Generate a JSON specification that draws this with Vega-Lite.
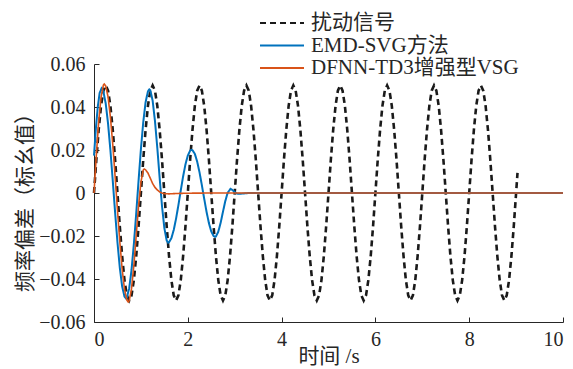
{
  "$schema": "https://vega.github.io/schema/vega-lite/v6.json",
  "width": 469,
  "height": 258,
  "autosize": {"type": "none"},
  "padding": {"left": 94, "top": 64, "right": 10, "bottom": 47},
  "background": "white",
  "config": {
    "view": {"stroke": null},
    "font": "Liberation Serif, Noto Sans CJK SC",
    "axis": {
      "grid": false,
      "domainColor": "#262626",
      "tickColor": "#262626",
      "domainWidth": 1,
      "tickWidth": 1,
      "tickSize": -5,
      "labelColor": "#262626",
      "titleColor": "#262626",
      "labelFont": "Liberation Serif, Noto Sans CJK SC",
      "titleFont": "Liberation Serif, Noto Sans CJK SC",
      "labelFontSize": 20,
      "titleFontSize": 21,
      "titleFontWeight": "normal"
    },
    "legend": {
      "labelFont": "Liberation Serif, Noto Sans CJK SC",
      "labelFontSize": 21,
      "labelColor": "#262626",
      "labelLimit": 400,
      "symbolType": "M-2,0H2",
      "symbolSize": 484,
      "symbolStrokeWidth": 2,
      "labelOffset": 17,
      "rowPadding": 0.5,
      "padding": 0
    }
  },
  "data": {"values": [
    {"s":"扰动信号","t":0,"v":0},{"s":"扰动信号","t":0.05,"v":0.0155},{"s":"扰动信号","t":0.1,"v":0.0294},{"s":"扰动信号","t":0.15,"v":0.0405},{"s":"扰动信号","t":0.2,"v":0.0476},{"s":"扰动信号","t":0.25,"v":0.05},{"s":"扰动信号","t":0.3,"v":0.0476},{"s":"扰动信号","t":0.35,"v":0.0405},{"s":"扰动信号","t":0.4,"v":0.0294},{"s":"扰动信号","t":0.45,"v":0.0155},{"s":"扰动信号","t":0.5,"v":0},{"s":"扰动信号","t":0.55,"v":-0.0155},{"s":"扰动信号","t":0.6,"v":-0.0294},{"s":"扰动信号","t":0.65,"v":-0.0405},{"s":"扰动信号","t":0.7,"v":-0.0476},{"s":"扰动信号","t":0.75,"v":-0.05},{"s":"扰动信号","t":0.8,"v":-0.0476},{"s":"扰动信号","t":0.85,"v":-0.0405},{"s":"扰动信号","t":0.9,"v":-0.0294},{"s":"扰动信号","t":0.95,"v":-0.0155},
    {"s":"扰动信号","t":1,"v":0},{"s":"扰动信号","t":1.05,"v":0.0155},{"s":"扰动信号","t":1.1,"v":0.0294},{"s":"扰动信号","t":1.15,"v":0.0405},{"s":"扰动信号","t":1.2,"v":0.0476},{"s":"扰动信号","t":1.25,"v":0.05},{"s":"扰动信号","t":1.3,"v":0.0476},{"s":"扰动信号","t":1.35,"v":0.0405},{"s":"扰动信号","t":1.4,"v":0.0294},{"s":"扰动信号","t":1.45,"v":0.0155},{"s":"扰动信号","t":1.5,"v":0},{"s":"扰动信号","t":1.55,"v":-0.0155},{"s":"扰动信号","t":1.6,"v":-0.0294},{"s":"扰动信号","t":1.65,"v":-0.0405},{"s":"扰动信号","t":1.7,"v":-0.0476},{"s":"扰动信号","t":1.75,"v":-0.05},{"s":"扰动信号","t":1.8,"v":-0.0476},{"s":"扰动信号","t":1.85,"v":-0.0405},{"s":"扰动信号","t":1.9,"v":-0.0294},{"s":"扰动信号","t":1.95,"v":-0.0155},
    {"s":"扰动信号","t":2,"v":0},{"s":"扰动信号","t":2.05,"v":0.0155},{"s":"扰动信号","t":2.1,"v":0.0294},{"s":"扰动信号","t":2.15,"v":0.0405},{"s":"扰动信号","t":2.2,"v":0.0476},{"s":"扰动信号","t":2.25,"v":0.05},{"s":"扰动信号","t":2.3,"v":0.0476},{"s":"扰动信号","t":2.35,"v":0.0405},{"s":"扰动信号","t":2.4,"v":0.0294},{"s":"扰动信号","t":2.45,"v":0.0155},{"s":"扰动信号","t":2.5,"v":0},{"s":"扰动信号","t":2.55,"v":-0.0155},{"s":"扰动信号","t":2.6,"v":-0.0294},{"s":"扰动信号","t":2.65,"v":-0.0405},{"s":"扰动信号","t":2.7,"v":-0.0476},{"s":"扰动信号","t":2.75,"v":-0.05},{"s":"扰动信号","t":2.8,"v":-0.0476},{"s":"扰动信号","t":2.85,"v":-0.0405},{"s":"扰动信号","t":2.9,"v":-0.0294},{"s":"扰动信号","t":2.95,"v":-0.0155},
    {"s":"扰动信号","t":3,"v":0},{"s":"扰动信号","t":3.05,"v":0.0155},{"s":"扰动信号","t":3.1,"v":0.0294},{"s":"扰动信号","t":3.15,"v":0.0405},{"s":"扰动信号","t":3.2,"v":0.0476},{"s":"扰动信号","t":3.25,"v":0.05},{"s":"扰动信号","t":3.3,"v":0.0476},{"s":"扰动信号","t":3.35,"v":0.0405},{"s":"扰动信号","t":3.4,"v":0.0294},{"s":"扰动信号","t":3.45,"v":0.0155},{"s":"扰动信号","t":3.5,"v":0},{"s":"扰动信号","t":3.55,"v":-0.0155},{"s":"扰动信号","t":3.6,"v":-0.0294},{"s":"扰动信号","t":3.65,"v":-0.0405},{"s":"扰动信号","t":3.7,"v":-0.0476},{"s":"扰动信号","t":3.75,"v":-0.05},{"s":"扰动信号","t":3.8,"v":-0.0476},{"s":"扰动信号","t":3.85,"v":-0.0405},{"s":"扰动信号","t":3.9,"v":-0.0294},{"s":"扰动信号","t":3.95,"v":-0.0155},
    {"s":"扰动信号","t":4,"v":0},{"s":"扰动信号","t":4.05,"v":0.0155},{"s":"扰动信号","t":4.1,"v":0.0294},{"s":"扰动信号","t":4.15,"v":0.0405},{"s":"扰动信号","t":4.2,"v":0.0476},{"s":"扰动信号","t":4.25,"v":0.05},{"s":"扰动信号","t":4.3,"v":0.0476},{"s":"扰动信号","t":4.35,"v":0.0405},{"s":"扰动信号","t":4.4,"v":0.0294},{"s":"扰动信号","t":4.45,"v":0.0155},{"s":"扰动信号","t":4.5,"v":0},{"s":"扰动信号","t":4.55,"v":-0.0155},{"s":"扰动信号","t":4.6,"v":-0.0294},{"s":"扰动信号","t":4.65,"v":-0.0405},{"s":"扰动信号","t":4.7,"v":-0.0476},{"s":"扰动信号","t":4.75,"v":-0.05},{"s":"扰动信号","t":4.8,"v":-0.0476},{"s":"扰动信号","t":4.85,"v":-0.0405},{"s":"扰动信号","t":4.9,"v":-0.0294},{"s":"扰动信号","t":4.95,"v":-0.0155},
    {"s":"扰动信号","t":5,"v":0},{"s":"扰动信号","t":5.05,"v":0.0155},{"s":"扰动信号","t":5.1,"v":0.0294},{"s":"扰动信号","t":5.15,"v":0.0405},{"s":"扰动信号","t":5.2,"v":0.0476},{"s":"扰动信号","t":5.25,"v":0.05},{"s":"扰动信号","t":5.3,"v":0.0476},{"s":"扰动信号","t":5.35,"v":0.0405},{"s":"扰动信号","t":5.4,"v":0.0294},{"s":"扰动信号","t":5.45,"v":0.0155},{"s":"扰动信号","t":5.5,"v":0},{"s":"扰动信号","t":5.55,"v":-0.0155},{"s":"扰动信号","t":5.6,"v":-0.0294},{"s":"扰动信号","t":5.65,"v":-0.0405},{"s":"扰动信号","t":5.7,"v":-0.0476},{"s":"扰动信号","t":5.75,"v":-0.05},{"s":"扰动信号","t":5.8,"v":-0.0476},{"s":"扰动信号","t":5.85,"v":-0.0405},{"s":"扰动信号","t":5.9,"v":-0.0294},{"s":"扰动信号","t":5.95,"v":-0.0155},
    {"s":"扰动信号","t":6,"v":0},{"s":"扰动信号","t":6.05,"v":0.0155},{"s":"扰动信号","t":6.1,"v":0.0294},{"s":"扰动信号","t":6.15,"v":0.0405},{"s":"扰动信号","t":6.2,"v":0.0476},{"s":"扰动信号","t":6.25,"v":0.05},{"s":"扰动信号","t":6.3,"v":0.0476},{"s":"扰动信号","t":6.35,"v":0.0405},{"s":"扰动信号","t":6.4,"v":0.0294},{"s":"扰动信号","t":6.45,"v":0.0155},{"s":"扰动信号","t":6.5,"v":0},{"s":"扰动信号","t":6.55,"v":-0.0155},{"s":"扰动信号","t":6.6,"v":-0.0294},{"s":"扰动信号","t":6.65,"v":-0.0405},{"s":"扰动信号","t":6.7,"v":-0.0476},{"s":"扰动信号","t":6.75,"v":-0.05},{"s":"扰动信号","t":6.8,"v":-0.0476},{"s":"扰动信号","t":6.85,"v":-0.0405},{"s":"扰动信号","t":6.9,"v":-0.0294},{"s":"扰动信号","t":6.95,"v":-0.0155},
    {"s":"扰动信号","t":7,"v":0},{"s":"扰动信号","t":7.05,"v":0.0155},{"s":"扰动信号","t":7.1,"v":0.0294},{"s":"扰动信号","t":7.15,"v":0.0405},{"s":"扰动信号","t":7.2,"v":0.0476},{"s":"扰动信号","t":7.25,"v":0.05},{"s":"扰动信号","t":7.3,"v":0.0476},{"s":"扰动信号","t":7.35,"v":0.0405},{"s":"扰动信号","t":7.4,"v":0.0294},{"s":"扰动信号","t":7.45,"v":0.0155},{"s":"扰动信号","t":7.5,"v":0},{"s":"扰动信号","t":7.55,"v":-0.0155},{"s":"扰动信号","t":7.6,"v":-0.0294},{"s":"扰动信号","t":7.65,"v":-0.0405},{"s":"扰动信号","t":7.7,"v":-0.0476},{"s":"扰动信号","t":7.75,"v":-0.05},{"s":"扰动信号","t":7.8,"v":-0.0476},{"s":"扰动信号","t":7.85,"v":-0.0405},{"s":"扰动信号","t":7.9,"v":-0.0294},{"s":"扰动信号","t":7.95,"v":-0.0155},
    {"s":"扰动信号","t":8,"v":0},{"s":"扰动信号","t":8.05,"v":0.0155},{"s":"扰动信号","t":8.1,"v":0.0294},{"s":"扰动信号","t":8.15,"v":0.0405},{"s":"扰动信号","t":8.2,"v":0.0476},{"s":"扰动信号","t":8.25,"v":0.05},{"s":"扰动信号","t":8.3,"v":0.0476},{"s":"扰动信号","t":8.35,"v":0.0405},{"s":"扰动信号","t":8.4,"v":0.0294},{"s":"扰动信号","t":8.45,"v":0.0155},{"s":"扰动信号","t":8.5,"v":0},{"s":"扰动信号","t":8.55,"v":-0.0155},{"s":"扰动信号","t":8.6,"v":-0.0294},{"s":"扰动信号","t":8.65,"v":-0.0405},{"s":"扰动信号","t":8.7,"v":-0.0476},{"s":"扰动信号","t":8.75,"v":-0.05},{"s":"扰动信号","t":8.8,"v":-0.0476},{"s":"扰动信号","t":8.85,"v":-0.0405},{"s":"扰动信号","t":8.9,"v":-0.0294},{"s":"扰动信号","t":8.95,"v":-0.0155},
    {"s":"扰动信号","t":9,"v":0},{"s":"扰动信号","t":9.03,"v":0.0094},
    {"s":"EMD-SVG方法","t":0,"v":0.0174},{"s":"EMD-SVG方法","t":0.04,"v":0.030},{"s":"EMD-SVG方法","t":0.08,"v":0.040},{"s":"EMD-SVG方法","t":0.12,"v":0.0465},{"s":"EMD-SVG方法","t":0.16,"v":0.0486},{"s":"EMD-SVG方法","t":0.2,"v":0.0472},{"s":"EMD-SVG方法","t":0.25,"v":0.0416},{"s":"EMD-SVG方法","t":0.3,"v":0.0322},{"s":"EMD-SVG方法","t":0.35,"v":0.0199},{"s":"EMD-SVG方法","t":0.4,"v":0.0057},{"s":"EMD-SVG方法","t":0.45,"v":-0.0090},{"s":"EMD-SVG方法","t":0.5,"v":-0.0229},{"s":"EMD-SVG方法","t":0.55,"v":-0.0347},{"s":"EMD-SVG方法","t":0.6,"v":-0.0434},{"s":"EMD-SVG方法","t":0.65,"v":-0.0482},{"s":"EMD-SVG方法","t":0.68,"v":-0.049},
    {"s":"EMD-SVG方法","t":0.7,"v":-0.0486},{"s":"EMD-SVG方法","t":0.75,"v":-0.0444},{"s":"EMD-SVG方法","t":0.8,"v":-0.0358},{"s":"EMD-SVG方法","t":0.85,"v":-0.0238},{"s":"EMD-SVG方法","t":0.9,"v":-0.0095},{"s":"EMD-SVG方法","t":0.95,"v":0.0057},{"s":"EMD-SVG方法","t":1,"v":0.0203},{"s":"EMD-SVG方法","t":1.05,"v":0.0329},{"s":"EMD-SVG方法","t":1.1,"v":0.0422},{"s":"EMD-SVG方法","t":1.15,"v":0.0473},{"s":"EMD-SVG方法","t":1.18,"v":0.0482},
    {"s":"EMD-SVG方法","t":1.2,"v":0.0478},{"s":"EMD-SVG方法","t":1.25,"v":0.0430},{"s":"EMD-SVG方法","t":1.3,"v":0.0335},{"s":"EMD-SVG方法","t":1.35,"v":0.0209},{"s":"EMD-SVG方法","t":1.4,"v":0.0070},{"s":"EMD-SVG方法","t":1.45,"v":-0.0061},{"s":"EMD-SVG方法","t":1.5,"v":-0.0163},{"s":"EMD-SVG方法","t":1.55,"v":-0.0221},{"s":"EMD-SVG方法","t":1.58,"v":-0.0231},
    {"s":"EMD-SVG方法","t":1.6,"v":-0.0229},{"s":"EMD-SVG方法","t":1.65,"v":-0.0210},{"s":"EMD-SVG方法","t":1.7,"v":-0.0172},{"s":"EMD-SVG方法","t":1.75,"v":-0.0119},{"s":"EMD-SVG方法","t":1.8,"v":-0.0056},{"s":"EMD-SVG方法","t":1.85,"v":0.0012},{"s":"EMD-SVG方法","t":1.9,"v":0.0077},{"s":"EMD-SVG方法","t":1.95,"v":0.0133},{"s":"EMD-SVG方法","t":2,"v":0.0174},{"s":"EMD-SVG方法","t":2.05,"v":0.0197},{"s":"EMD-SVG方法","t":2.08,"v":0.0201},
    {"s":"EMD-SVG方法","t":2.1,"v":0.0199},{"s":"EMD-SVG方法","t":2.15,"v":0.0182},{"s":"EMD-SVG方法","t":2.2,"v":0.0146},{"s":"EMD-SVG方法","t":2.25,"v":0.0096},{"s":"EMD-SVG方法","t":2.3,"v":0.0036},{"s":"EMD-SVG方法","t":2.35,"v":-0.0027},{"s":"EMD-SVG方法","t":2.4,"v":-0.0088},{"s":"EMD-SVG方法","t":2.45,"v":-0.0140},{"s":"EMD-SVG方法","t":2.5,"v":-0.0179},{"s":"EMD-SVG方法","t":2.55,"v":-0.0200},{"s":"EMD-SVG方法","t":2.58,"v":-0.0204},
    {"s":"EMD-SVG方法","t":2.6,"v":-0.0202},{"s":"EMD-SVG方法","t":2.65,"v":-0.0180},{"s":"EMD-SVG方法","t":2.7,"v":-0.0139},{"s":"EMD-SVG方法","t":2.75,"v":-0.0087},{"s":"EMD-SVG方法","t":2.8,"v":-0.0037},{"s":"EMD-SVG方法","t":2.85,"v":0.0001},{"s":"EMD-SVG方法","t":2.91,"v":0.0019},{"s":"EMD-SVG方法","t":2.95,"v":0.0014},{"s":"EMD-SVG方法","t":3,"v":0.0004},{"s":"EMD-SVG方法","t":3.05,"v":-0.0003},{"s":"EMD-SVG方法","t":3.1,"v":-0.0004},{"s":"EMD-SVG方法","t":3.2,"v":-0.0002},{"s":"EMD-SVG方法","t":3.3,"v":0},{"s":"EMD-SVG方法","t":3.5,"v":0},{"s":"EMD-SVG方法","t":10,"v":0},
    {"s":"DFNN-TD3增强型VSG","t":0,"v":0},{"s":"DFNN-TD3增强型VSG","t":0.05,"v":0.0177},{"s":"DFNN-TD3增强型VSG","t":0.1,"v":0.0332},{"s":"DFNN-TD3增强型VSG","t":0.15,"v":0.0445},{"s":"DFNN-TD3增强型VSG","t":0.2,"v":0.0502},{"s":"DFNN-TD3增强型VSG","t":0.22,"v":0.0507},
    {"s":"DFNN-TD3增强型VSG","t":0.25,"v":0.0498},{"s":"DFNN-TD3增强型VSG","t":0.3,"v":0.0447},{"s":"DFNN-TD3增强型VSG","t":0.35,"v":0.0353},{"s":"DFNN-TD3增强型VSG","t":0.4,"v":0.0226},{"s":"DFNN-TD3增强型VSG","t":0.45,"v":0.0078},{"s":"DFNN-TD3增强型VSG","t":0.5,"v":-0.0078},{"s":"DFNN-TD3增强型VSG","t":0.55,"v":-0.0226},{"s":"DFNN-TD3增强型VSG","t":0.6,"v":-0.0353},{"s":"DFNN-TD3增强型VSG","t":0.65,"v":-0.0447},{"s":"DFNN-TD3增强型VSG","t":0.7,"v":-0.0498},{"s":"DFNN-TD3增强型VSG","t":0.73,"v":-0.0507},
    {"s":"DFNN-TD3增强型VSG","t":0.75,"v":-0.0502},{"s":"DFNN-TD3增强型VSG","t":0.8,"v":-0.0445},{"s":"DFNN-TD3增强型VSG","t":0.85,"v":-0.0336},{"s":"DFNN-TD3增强型VSG","t":0.9,"v":-0.0198},{"s":"DFNN-TD3增强型VSG","t":0.95,"v":-0.0060},{"s":"DFNN-TD3增强型VSG","t":1,"v":0.0050},{"s":"DFNN-TD3增强型VSG","t":1.05,"v":0.0107},{"s":"DFNN-TD3增强型VSG","t":1.07,"v":0.0112},
    {"s":"DFNN-TD3增强型VSG","t":1.1,"v":0.0108},{"s":"DFNN-TD3增强型VSG","t":1.15,"v":0.0093},{"s":"DFNN-TD3增强型VSG","t":1.2,"v":0.0069},{"s":"DFNN-TD3增强型VSG","t":1.25,"v":0.0044},{"s":"DFNN-TD3增强型VSG","t":1.3,"v":0.0026},{"s":"DFNN-TD3增强型VSG","t":1.35,"v":0.0014},{"s":"DFNN-TD3增强型VSG","t":1.4,"v":0.0005},{"s":"DFNN-TD3增强型VSG","t":1.45,"v":0},{"s":"DFNN-TD3增强型VSG","t":1.5,"v":-0.0003},{"s":"DFNN-TD3增强型VSG","t":1.6,"v":-0.0004},{"s":"DFNN-TD3增强型VSG","t":1.8,"v":-0.0002},{"s":"DFNN-TD3增强型VSG","t":2,"v":-0.0001},{"s":"DFNN-TD3增强型VSG","t":2.5,"v":0},{"s":"DFNN-TD3增强型VSG","t":10,"v":0}
  ]},
  "encoding": {
    "x": {
      "field": "t", "type": "quantitative",
      "scale": {"domain": [0, 10], "nice": false},
      "axis": {"values": [0, 2, 4, 6, 8, 10], "format": "d", "title": "时间 /s", "labelPadding": 12, "titleY": 23, "titleBaseline": "top"}
    },
    "y": {
      "field": "v", "type": "quantitative",
      "scale": {"domain": [-0.06, 0.06], "nice": false},
      "axis": {
        "values": [-0.06, -0.04, -0.02, 0, 0.02, 0.04, 0.06],
        "labelExpr": "datum.value == 0 ? '0' : (datum.value < 0 ? '−' + format(-datum.value, '.2f') : format(datum.value, '.2f'))",
        "labelPadding": 14,
        "title": "频率偏差（标幺值）",
        "titleX": -59, "titleY": 133, "titleAngle": -90, "titleBaseline": "bottom", "titleAlign": "center"
      }
    },
    "color": {
      "field": "s", "type": "nominal",
      "scale": {"domain": ["扰动信号", "EMD-SVG方法", "DFNN-TD3增强型VSG"], "range": ["#1a1a1a", "#0072BD", "#D95319"]},
      "legend": {"orient": "none", "legendX": 176, "legendY": -53, "title": null}
    },
    "strokeDash": {
      "field": "s", "type": "nominal",
      "scale": {"domain": ["扰动信号", "EMD-SVG方法", "DFNN-TD3增强型VSG"], "range": [[6, 4], [1, 0], [1, 0]]},
      "legend": {"orient": "none", "legendX": 176, "legendY": -53, "title": null}
    }
  },
  "layer": [
    {"transform": [{"filter": "datum.s === '扰动信号'"}], "mark": {"type": "line", "strokeWidth": 2.6}},
    {"transform": [{"filter": "datum.s === 'EMD-SVG方法'"}], "mark": {"type": "line", "strokeWidth": 2}},
    {"transform": [{"filter": "datum.s === 'DFNN-TD3增强型VSG'"}], "mark": {"type": "line", "strokeWidth": 1.6}}
  ]
}
